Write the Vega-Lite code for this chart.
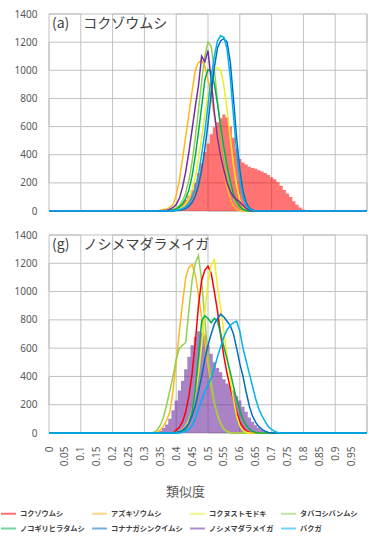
{
  "$schema": "https://vega.github.io/schema/vega-lite/v6.json",
  "background": "white",
  "padding": {"left": 0, "top": 9, "right": 0, "bottom": 0},
  "config": {
    "view": {"stroke": null},
    "font": "Noto Sans CJK JP",
    "axis": {"labelFont": "Noto Sans", "labelColor": "#595959", "grid": false, "domain": false, "ticks": false}
  },
  "spacing": 14,
  "datasets": {
    "gridlines": [
      {"g":"v","i":0,"x":0,"y":0},{"g":"v","i":1,"x":0,"y":1400},{"g":"v","i":2,"x":0.1,"y":1400},{"g":"v","i":3,"x":0.1,"y":0},
      {"g":"v","i":4,"x":0.2,"y":0},{"g":"v","i":5,"x":0.2,"y":1400},{"g":"v","i":6,"x":0.3,"y":1400},{"g":"v","i":7,"x":0.3,"y":0},
      {"g":"v","i":8,"x":0.4,"y":0},{"g":"v","i":9,"x":0.4,"y":1400},{"g":"v","i":10,"x":0.5,"y":1400},{"g":"v","i":11,"x":0.5,"y":0},
      {"g":"v","i":12,"x":0.6,"y":0},{"g":"v","i":13,"x":0.6,"y":1400},{"g":"v","i":14,"x":0.7,"y":1400},{"g":"v","i":15,"x":0.7,"y":0},
      {"g":"v","i":16,"x":0.8,"y":0},{"g":"v","i":17,"x":0.8,"y":1400},{"g":"v","i":18,"x":0.9,"y":1400},{"g":"v","i":19,"x":0.9,"y":0},
      {"g":"v","i":20,"x":1,"y":0},{"g":"v","i":21,"x":1,"y":1400},
      {"g":"h","i":0,"x":0,"y":0},{"g":"h","i":1,"x":1,"y":0},{"g":"h","i":2,"x":1,"y":200},{"g":"h","i":3,"x":0,"y":200},
      {"g":"h","i":4,"x":0,"y":400},{"g":"h","i":5,"x":1,"y":400},{"g":"h","i":6,"x":1,"y":600},{"g":"h","i":7,"x":0,"y":600},
      {"g":"h","i":8,"x":0,"y":800},{"g":"h","i":9,"x":1,"y":800},{"g":"h","i":10,"x":1,"y":1000},{"g":"h","i":11,"x":0,"y":1000},
      {"g":"h","i":12,"x":0,"y":1200},{"g":"h","i":13,"x":1,"y":1200},{"g":"h","i":14,"x":1,"y":1400},{"g":"h","i":15,"x":0,"y":1400}
    ],
    "aL": [
      {"s":"アズキゾウムシ","x":0,"y":0},{"s":"アズキゾウムシ","x":0.34,"y":0},{"s":"アズキゾウムシ","x":0.35,"y":5},{"s":"アズキゾウムシ","x":0.36,"y":10},{"s":"アズキゾウムシ","x":0.37,"y":15},{"s":"アズキゾウムシ","x":0.38,"y":25},{"s":"アズキゾウムシ","x":0.39,"y":45},{"s":"アズキゾウムシ","x":0.40,"y":110},{"s":"アズキゾウムシ","x":0.41,"y":220},{"s":"アズキゾウムシ","x":0.42,"y":370},{"s":"アズキゾウムシ","x":0.43,"y":530},{"s":"アズキゾウムシ","x":0.44,"y":690},{"s":"アズキゾウムシ","x":0.45,"y":850},{"s":"アズキゾウムシ","x":0.46,"y":1000},{"s":"アズキゾウムシ","x":0.47,"y":1055},{"s":"アズキゾウムシ","x":0.48,"y":1070},{"s":"アズキゾウムシ","x":0.49,"y":1030},{"s":"アズキゾウムシ","x":0.50,"y":930},{"s":"アズキゾウムシ","x":0.51,"y":810},{"s":"アズキゾウムシ","x":0.52,"y":680},{"s":"アズキゾウムシ","x":0.53,"y":540},{"s":"アズキゾウムシ","x":0.54,"y":410},{"s":"アズキゾウムシ","x":0.55,"y":290},{"s":"アズキゾウムシ","x":0.56,"y":170},{"s":"アズキゾウムシ","x":0.57,"y":85},{"s":"アズキゾウムシ","x":0.58,"y":35},{"s":"アズキゾウムシ","x":0.59,"y":12},{"s":"アズキゾウムシ","x":0.60,"y":3},{"s":"アズキゾウムシ","x":0.61,"y":0},{"s":"アズキゾウムシ","x":1,"y":0},
      {"s":"コクヌストモドキ","x":0,"y":0},{"s":"コクヌストモドキ","x":0.38,"y":0},{"s":"コクヌストモドキ","x":0.39,"y":4},{"s":"コクヌストモドキ","x":0.40,"y":8},{"s":"コクヌストモドキ","x":0.41,"y":15},{"s":"コクヌストモドキ","x":0.42,"y":28},{"s":"コクヌストモドキ","x":0.43,"y":50},{"s":"コクヌストモドキ","x":0.44,"y":90},{"s":"コクヌストモドキ","x":0.45,"y":150},{"s":"コクヌストモドキ","x":0.46,"y":240},{"s":"コクヌストモドキ","x":0.47,"y":370},{"s":"コクヌストモドキ","x":0.48,"y":520},{"s":"コクヌストモドキ","x":0.49,"y":680},{"s":"コクヌストモドキ","x":0.50,"y":830},{"s":"コクヌストモドキ","x":0.51,"y":940},{"s":"コクヌストモドキ","x":0.52,"y":1000},{"s":"コクヌストモドキ","x":0.53,"y":1020},{"s":"コクヌストモドキ","x":0.54,"y":1000},{"s":"コクヌストモドキ","x":0.55,"y":890},{"s":"コクヌストモドキ","x":0.56,"y":720},{"s":"コクヌストモドキ","x":0.57,"y":520},{"s":"コクヌストモドキ","x":0.58,"y":330},{"s":"コクヌストモドキ","x":0.59,"y":180},{"s":"コクヌストモドキ","x":0.60,"y":80},{"s":"コクヌストモドキ","x":0.61,"y":30},{"s":"コクヌストモドキ","x":0.62,"y":10},{"s":"コクヌストモドキ","x":0.63,"y":3},{"s":"コクヌストモドキ","x":0.64,"y":0},{"s":"コクヌストモドキ","x":1,"y":0},
      {"s":"タバコシバンムシ","x":0,"y":0},{"s":"タバコシバンムシ","x":0.36,"y":0},{"s":"タバコシバンムシ","x":0.37,"y":3},{"s":"タバコシバンムシ","x":0.38,"y":6},{"s":"タバコシバンムシ","x":0.39,"y":12},{"s":"タバコシバンムシ","x":0.40,"y":22},{"s":"タバコシバンムシ","x":0.41,"y":40},{"s":"タバコシバンムシ","x":0.42,"y":75},{"s":"タバコシバンムシ","x":0.43,"y":130},{"s":"タバコシバンムシ","x":0.44,"y":220},{"s":"タバコシバンムシ","x":0.45,"y":350},{"s":"タバコシバンムシ","x":0.46,"y":520},{"s":"タバコシバンムシ","x":0.47,"y":720},{"s":"タバコシバンムシ","x":0.48,"y":920},{"s":"タバコシバンムシ","x":0.49,"y":1100},{"s":"タバコシバンムシ","x":0.50,"y":1200},{"s":"タバコシバンムシ","x":0.51,"y":1170},{"s":"タバコシバンムシ","x":0.52,"y":1000},{"s":"タバコシバンムシ","x":0.53,"y":780},{"s":"タバコシバンムシ","x":0.54,"y":580},{"s":"タバコシバンムシ","x":0.55,"y":410},{"s":"タバコシバンムシ","x":0.56,"y":270},{"s":"タバコシバンムシ","x":0.57,"y":170},{"s":"タバコシバンムシ","x":0.58,"y":95},{"s":"タバコシバンムシ","x":0.59,"y":50},{"s":"タバコシバンムシ","x":0.60,"y":22},{"s":"タバコシバンムシ","x":0.61,"y":8},{"s":"タバコシバンムシ","x":0.62,"y":2},{"s":"タバコシバンムシ","x":0.63,"y":0},{"s":"タバコシバンムシ","x":1,"y":0},
      {"s":"ノコギリヒラタムシ","x":0,"y":0},{"s":"ノコギリヒラタムシ","x":0.37,"y":0},{"s":"ノコギリヒラタムシ","x":0.38,"y":4},{"s":"ノコギリヒラタムシ","x":0.39,"y":8},{"s":"ノコギリヒラタムシ","x":0.40,"y":15},{"s":"ノコギリヒラタムシ","x":0.41,"y":28},{"s":"ノコギリヒラタムシ","x":0.42,"y":50},{"s":"ノコギリヒラタムシ","x":0.43,"y":90},{"s":"ノコギリヒラタムシ","x":0.44,"y":150},{"s":"ノコギリヒラタムシ","x":0.45,"y":250},{"s":"ノコギリヒラタムシ","x":0.46,"y":390},{"s":"ノコギリヒラタムシ","x":0.47,"y":560},{"s":"ノコギリヒラタムシ","x":0.48,"y":740},{"s":"ノコギリヒラタムシ","x":0.49,"y":930},{"s":"ノコギリヒラタムシ","x":0.50,"y":1005},{"s":"ノコギリヒラタムシ","x":0.51,"y":990},{"s":"ノコギリヒラタムシ","x":0.52,"y":900},{"s":"ノコギリヒラタムシ","x":0.53,"y":760},{"s":"ノコギリヒラタムシ","x":0.54,"y":600},{"s":"ノコギリヒラタムシ","x":0.55,"y":450},{"s":"ノコギリヒラタムシ","x":0.56,"y":320},{"s":"ノコギリヒラタムシ","x":0.57,"y":210},{"s":"ノコギリヒラタムシ","x":0.58,"y":120},{"s":"ノコギリヒラタムシ","x":0.59,"y":65},{"s":"ノコギリヒラタムシ","x":0.60,"y":30},{"s":"ノコギリヒラタムシ","x":0.61,"y":12},{"s":"ノコギリヒラタムシ","x":0.62,"y":4},{"s":"ノコギリヒラタムシ","x":0.63,"y":0},{"s":"ノコギリヒラタムシ","x":1,"y":0},
      {"s":"コナナガシンクイムシ","x":0,"y":0},{"s":"コナナガシンクイムシ","x":0.39,"y":0},{"s":"コナナガシンクイムシ","x":0.40,"y":3},{"s":"コナナガシンクイムシ","x":0.41,"y":6},{"s":"コナナガシンクイムシ","x":0.42,"y":10},{"s":"コナナガシンクイムシ","x":0.43,"y":18},{"s":"コナナガシンクイムシ","x":0.44,"y":32},{"s":"コナナガシンクイムシ","x":0.45,"y":60},{"s":"コナナガシンクイムシ","x":0.46,"y":105},{"s":"コナナガシンクイムシ","x":0.47,"y":180},{"s":"コナナガシンクイムシ","x":0.48,"y":290},{"s":"コナナガシンクイムシ","x":0.49,"y":440},{"s":"コナナガシンクイムシ","x":0.50,"y":620},{"s":"コナナガシンクイムシ","x":0.51,"y":830},{"s":"コナナガシンクイムシ","x":0.52,"y":1020},{"s":"コナナガシンクイムシ","x":0.53,"y":1160},{"s":"コナナガシンクイムシ","x":0.54,"y":1210},{"s":"コナナガシンクイムシ","x":0.55,"y":1225},{"s":"コナナガシンクイムシ","x":0.56,"y":1200},{"s":"コナナガシンクイムシ","x":0.57,"y":1060},{"s":"コナナガシンクイムシ","x":0.58,"y":800},{"s":"コナナガシンクイムシ","x":0.59,"y":520},{"s":"コナナガシンクイムシ","x":0.60,"y":290},{"s":"コナナガシンクイムシ","x":0.61,"y":140},{"s":"コナナガシンクイムシ","x":0.62,"y":60},{"s":"コナナガシンクイムシ","x":0.63,"y":22},{"s":"コナナガシンクイムシ","x":0.64,"y":8},{"s":"コナナガシンクイムシ","x":0.65,"y":2},{"s":"コナナガシンクイムシ","x":0.66,"y":0},{"s":"コナナガシンクイムシ","x":1,"y":0},
      {"s":"ノシメマダラメイガ","x":0,"y":0},{"s":"ノシメマダラメイガ","x":0.35,"y":0},{"s":"ノシメマダラメイガ","x":0.36,"y":3},{"s":"ノシメマダラメイガ","x":0.37,"y":6},{"s":"ノシメマダラメイガ","x":0.38,"y":12},{"s":"ノシメマダラメイガ","x":0.39,"y":25},{"s":"ノシメマダラメイガ","x":0.40,"y":45},{"s":"ノシメマダラメイガ","x":0.41,"y":90},{"s":"ノシメマダラメイガ","x":0.42,"y":170},{"s":"ノシメマダラメイガ","x":0.43,"y":280},{"s":"ノシメマダラメイガ","x":0.44,"y":420},{"s":"ノシメマダラメイガ","x":0.45,"y":580},{"s":"ノシメマダラメイガ","x":0.46,"y":740},{"s":"ノシメマダラメイガ","x":0.47,"y":890},{"s":"ノシメマダラメイガ","x":0.48,"y":1100},{"s":"ノシメマダラメイガ","x":0.49,"y":1060},{"s":"ノシメマダラメイガ","x":0.50,"y":1140},{"s":"ノシメマダラメイガ","x":0.51,"y":930},{"s":"ノシメマダラメイガ","x":0.52,"y":700},{"s":"ノシメマダラメイガ","x":0.53,"y":520},{"s":"ノシメマダラメイガ","x":0.54,"y":390},{"s":"ノシメマダラメイガ","x":0.55,"y":290},{"s":"ノシメマダラメイガ","x":0.56,"y":200},{"s":"ノシメマダラメイガ","x":0.57,"y":140},{"s":"ノシメマダラメイガ","x":0.58,"y":100},{"s":"ノシメマダラメイガ","x":0.59,"y":80},{"s":"ノシメマダラメイガ","x":0.60,"y":65},{"s":"ノシメマダラメイガ","x":0.61,"y":40},{"s":"ノシメマダラメイガ","x":0.62,"y":18},{"s":"ノシメマダラメイガ","x":0.63,"y":6},{"s":"ノシメマダラメイガ","x":0.64,"y":0},{"s":"ノシメマダラメイガ","x":1,"y":0},
      {"s":"バクガ","x":0,"y":0},{"s":"バクガ","x":0.38,"y":0},{"s":"バクガ","x":0.39,"y":3},{"s":"バクガ","x":0.40,"y":6},{"s":"バクガ","x":0.41,"y":10},{"s":"バクガ","x":0.42,"y":18},{"s":"バクガ","x":0.43,"y":30},{"s":"バクガ","x":0.44,"y":55},{"s":"バクガ","x":0.45,"y":95},{"s":"バクガ","x":0.46,"y":160},{"s":"バクガ","x":0.47,"y":260},{"s":"バクガ","x":0.48,"y":400},{"s":"バクガ","x":0.49,"y":560},{"s":"バクガ","x":0.50,"y":750},{"s":"バクガ","x":0.51,"y":950},{"s":"バクガ","x":0.52,"y":1100},{"s":"バクガ","x":0.53,"y":1210},{"s":"バクガ","x":0.54,"y":1245},{"s":"バクガ","x":0.55,"y":1235},{"s":"バクガ","x":0.56,"y":1150},{"s":"バクガ","x":0.57,"y":950},{"s":"バクガ","x":0.58,"y":680},{"s":"バクガ","x":0.59,"y":420},{"s":"バクガ","x":0.60,"y":220},{"s":"バクガ","x":0.61,"y":100},{"s":"バクガ","x":0.62,"y":40},{"s":"バクガ","x":0.63,"y":15},{"s":"バクガ","x":0.64,"y":5},{"s":"バクガ","x":0.65,"y":0},{"s":"バクガ","x":1,"y":0}
    ],
    "aH": [
      {"s":"コクゾウムシ","x":0.37,"y":0},{"s":"コクゾウムシ","x":0.38,"y":5},{"s":"コクゾウムシ","x":0.39,"y":10},{"s":"コクゾウムシ","x":0.40,"y":20},{"s":"コクゾウムシ","x":0.41,"y":35},{"s":"コクゾウムシ","x":0.42,"y":55},{"s":"コクゾウムシ","x":0.43,"y":80},{"s":"コクゾウムシ","x":0.44,"y":110},{"s":"コクゾウムシ","x":0.45,"y":150},{"s":"コクゾウムシ","x":0.46,"y":200},{"s":"コクゾウムシ","x":0.47,"y":270},{"s":"コクゾウムシ","x":0.48,"y":340},{"s":"コクゾウムシ","x":0.49,"y":420},{"s":"コクゾウムシ","x":0.50,"y":480},{"s":"コクゾウムシ","x":0.51,"y":545},{"s":"コクゾウムシ","x":0.52,"y":595},{"s":"コクゾウムシ","x":0.53,"y":630},{"s":"コクゾウムシ","x":0.54,"y":660},{"s":"コクゾウムシ","x":0.55,"y":685},{"s":"コクゾウムシ","x":0.56,"y":665},{"s":"コクゾウムシ","x":0.57,"y":600},{"s":"コクゾウムシ","x":0.58,"y":520},{"s":"コクゾウムシ","x":0.59,"y":440},{"s":"コクゾウムシ","x":0.60,"y":370},{"s":"コクゾウムシ","x":0.61,"y":345},{"s":"コクゾウムシ","x":0.62,"y":330},{"s":"コクゾウムシ","x":0.63,"y":315},{"s":"コクゾウムシ","x":0.64,"y":305},{"s":"コクゾウムシ","x":0.65,"y":300},{"s":"コクゾウムシ","x":0.66,"y":290},{"s":"コクゾウムシ","x":0.67,"y":280},{"s":"コクゾウムシ","x":0.68,"y":270},{"s":"コクゾウムシ","x":0.69,"y":255},{"s":"コクゾウムシ","x":0.70,"y":240},{"s":"コクゾウムシ","x":0.71,"y":225},{"s":"コクゾウムシ","x":0.72,"y":205},{"s":"コクゾウムシ","x":0.73,"y":180},{"s":"コクゾウムシ","x":0.74,"y":150},{"s":"コクゾウムシ","x":0.75,"y":125},{"s":"コクゾウムシ","x":0.76,"y":100},{"s":"コクゾウムシ","x":0.77,"y":70},{"s":"コクゾウムシ","x":0.78,"y":45},{"s":"コクゾウムシ","x":0.79,"y":25},{"s":"コクゾウムシ","x":0.80,"y":10},{"s":"コクゾウムシ","x":0.81,"y":3},{"s":"コクゾウムシ","x":0.82,"y":0}
    ],
    "gL": [
      {"s":"アズキゾウムシ","x":0,"y":0},{"s":"アズキゾウムシ","x":0.33,"y":0},{"s":"アズキゾウムシ","x":0.34,"y":5},{"s":"アズキゾウムシ","x":0.35,"y":20},{"s":"アズキゾウムシ","x":0.36,"y":50},{"s":"アズキゾウムシ","x":0.37,"y":90},{"s":"アズキゾウムシ","x":0.38,"y":150},{"s":"アズキゾウムシ","x":0.39,"y":300},{"s":"アズキゾウムシ","x":0.40,"y":500},{"s":"アズキゾウムシ","x":0.41,"y":720},{"s":"アズキゾウムシ","x":0.42,"y":920},{"s":"アズキゾウムシ","x":0.43,"y":1100},{"s":"アズキゾウムシ","x":0.44,"y":1170},{"s":"アズキゾウムシ","x":0.45,"y":1190},{"s":"アズキゾウムシ","x":0.46,"y":1120},{"s":"アズキゾウムシ","x":0.47,"y":980},{"s":"アズキゾウムシ","x":0.48,"y":820},{"s":"アズキゾウムシ","x":0.49,"y":650},{"s":"アズキゾウムシ","x":0.50,"y":480},{"s":"アズキゾウムシ","x":0.51,"y":330},{"s":"アズキゾウムシ","x":0.52,"y":210},{"s":"アズキゾウムシ","x":0.53,"y":130},{"s":"アズキゾウムシ","x":0.54,"y":70},{"s":"アズキゾウムシ","x":0.55,"y":30},{"s":"アズキゾウムシ","x":0.56,"y":10},{"s":"アズキゾウムシ","x":0.57,"y":3},{"s":"アズキゾウムシ","x":0.58,"y":0},{"s":"アズキゾウムシ","x":1,"y":0},
      {"s":"タバコシバンムシ","x":0,"y":0},{"s":"タバコシバンムシ","x":0.32,"y":0},{"s":"タバコシバンムシ","x":0.33,"y":5},{"s":"タバコシバンムシ","x":0.34,"y":20},{"s":"タバコシバンムシ","x":0.35,"y":55},{"s":"タバコシバンムシ","x":0.36,"y":110},{"s":"タバコシバンムシ","x":0.37,"y":200},{"s":"タバコシバンムシ","x":0.38,"y":300},{"s":"タバコシバンムシ","x":0.39,"y":400},{"s":"タバコシバンムシ","x":0.40,"y":520},{"s":"タバコシバンムシ","x":0.41,"y":600},{"s":"タバコシバンムシ","x":0.42,"y":620},{"s":"タバコシバンムシ","x":0.43,"y":640},{"s":"タバコシバンムシ","x":0.44,"y":870},{"s":"タバコシバンムシ","x":0.45,"y":1080},{"s":"タバコシバンムシ","x":0.46,"y":1200},{"s":"タバコシバンムシ","x":0.47,"y":1255},{"s":"タバコシバンムシ","x":0.48,"y":1080},{"s":"タバコシバンムシ","x":0.49,"y":800},{"s":"タバコシバンムシ","x":0.50,"y":560},{"s":"タバコシバンムシ","x":0.51,"y":360},{"s":"タバコシバンムシ","x":0.52,"y":220},{"s":"タバコシバンムシ","x":0.53,"y":120},{"s":"タバコシバンムシ","x":0.54,"y":60},{"s":"タバコシバンムシ","x":0.55,"y":25},{"s":"タバコシバンムシ","x":0.56,"y":8},{"s":"タバコシバンムシ","x":0.57,"y":2},{"s":"タバコシバンムシ","x":0.58,"y":0},{"s":"タバコシバンムシ","x":1,"y":0},
      {"s":"コクゾウムシ","x":0,"y":0},{"s":"コクゾウムシ","x":0.39,"y":0},{"s":"コクゾウムシ","x":0.40,"y":20},{"s":"コクゾウムシ","x":0.41,"y":40},{"s":"コクゾウムシ","x":0.42,"y":80},{"s":"コクゾウムシ","x":0.43,"y":150},{"s":"コクゾウムシ","x":0.44,"y":260},{"s":"コクゾウムシ","x":0.45,"y":420},{"s":"コクゾウムシ","x":0.46,"y":640},{"s":"コクゾウムシ","x":0.47,"y":900},{"s":"コクゾウムシ","x":0.48,"y":1080},{"s":"コクゾウムシ","x":0.49,"y":1150},{"s":"コクゾウムシ","x":0.50,"y":1180},{"s":"コクゾウムシ","x":0.51,"y":1130},{"s":"コクゾウムシ","x":0.52,"y":1000},{"s":"コクゾウムシ","x":0.53,"y":860},{"s":"コクゾウムシ","x":0.54,"y":690},{"s":"コクゾウムシ","x":0.55,"y":540},{"s":"コクゾウムシ","x":0.56,"y":420},{"s":"コクゾウムシ","x":0.57,"y":320},{"s":"コクゾウムシ","x":0.58,"y":240},{"s":"コクゾウムシ","x":0.59,"y":150},{"s":"コクゾウムシ","x":0.60,"y":80},{"s":"コクゾウムシ","x":0.61,"y":40},{"s":"コクゾウムシ","x":0.62,"y":15},{"s":"コクゾウムシ","x":0.63,"y":5},{"s":"コクゾウムシ","x":0.64,"y":0},{"s":"コクゾウムシ","x":1,"y":0},
      {"s":"コクヌストモドキ","x":0,"y":0},{"s":"コクヌストモドキ","x":0.39,"y":0},{"s":"コクヌストモドキ","x":0.40,"y":5},{"s":"コクヌストモドキ","x":0.41,"y":12},{"s":"コクヌストモドキ","x":0.42,"y":25},{"s":"コクヌストモドキ","x":0.43,"y":50},{"s":"コクヌストモドキ","x":0.44,"y":90},{"s":"コクヌストモドキ","x":0.45,"y":160},{"s":"コクヌストモドキ","x":0.46,"y":270},{"s":"コクヌストモドキ","x":0.47,"y":420},{"s":"コクヌストモドキ","x":0.48,"y":620},{"s":"コクヌストモドキ","x":0.49,"y":860},{"s":"コクヌストモドキ","x":0.50,"y":1060},{"s":"コクヌストモドキ","x":0.51,"y":1190},{"s":"コクヌストモドキ","x":0.52,"y":1225},{"s":"コクヌストモドキ","x":0.53,"y":1030},{"s":"コクヌストモドキ","x":0.54,"y":880},{"s":"コクヌストモドキ","x":0.55,"y":720},{"s":"コクヌストモドキ","x":0.56,"y":550},{"s":"コクヌストモドキ","x":0.57,"y":380},{"s":"コクヌストモドキ","x":0.58,"y":240},{"s":"コクヌストモドキ","x":0.59,"y":120},{"s":"コクヌストモドキ","x":0.60,"y":50},{"s":"コクヌストモドキ","x":0.61,"y":18},{"s":"コクヌストモドキ","x":0.62,"y":5},{"s":"コクヌストモドキ","x":0.63,"y":0},{"s":"コクヌストモドキ","x":1,"y":0},
      {"s":"ノコギリヒラタムシ","x":0,"y":0},{"s":"ノコギリヒラタムシ","x":0.40,"y":0},{"s":"ノコギリヒラタムシ","x":0.41,"y":5},{"s":"ノコギリヒラタムシ","x":0.42,"y":12},{"s":"ノコギリヒラタムシ","x":0.43,"y":30},{"s":"ノコギリヒラタムシ","x":0.44,"y":70},{"s":"ノコギリヒラタムシ","x":0.45,"y":150},{"s":"ノコギリヒラタムシ","x":0.46,"y":300},{"s":"ノコギリヒラタムシ","x":0.47,"y":540},{"s":"ノコギリヒラタムシ","x":0.48,"y":790},{"s":"ノコギリヒラタムシ","x":0.49,"y":830},{"s":"ノコギリヒラタムシ","x":0.50,"y":810},{"s":"ノコギリヒラタムシ","x":0.51,"y":780},{"s":"ノコギリヒラタムシ","x":0.52,"y":810},{"s":"ノコギリヒラタムシ","x":0.53,"y":790},{"s":"ノコギリヒラタムシ","x":0.54,"y":700},{"s":"ノコギリヒラタムシ","x":0.55,"y":610},{"s":"ノコギリヒラタムシ","x":0.56,"y":520},{"s":"ノコギリヒラタムシ","x":0.57,"y":430},{"s":"ノコギリヒラタムシ","x":0.58,"y":330},{"s":"ノコギリヒラタムシ","x":0.59,"y":240},{"s":"ノコギリヒラタムシ","x":0.60,"y":160},{"s":"ノコギリヒラタムシ","x":0.61,"y":100},{"s":"ノコギリヒラタムシ","x":0.62,"y":55},{"s":"ノコギリヒラタムシ","x":0.63,"y":28},{"s":"ノコギリヒラタムシ","x":0.64,"y":12},{"s":"ノコギリヒラタムシ","x":0.65,"y":4},{"s":"ノコギリヒラタムシ","x":0.66,"y":0},{"s":"ノコギリヒラタムシ","x":1,"y":0},
      {"s":"コナナガシンクイムシ","x":0,"y":0},{"s":"コナナガシンクイムシ","x":0.39,"y":0},{"s":"コナナガシンクイムシ","x":0.40,"y":5},{"s":"コナナガシンクイムシ","x":0.41,"y":10},{"s":"コナナガシンクイムシ","x":0.42,"y":20},{"s":"コナナガシンクイムシ","x":0.43,"y":40},{"s":"コナナガシンクイムシ","x":0.44,"y":70},{"s":"コナナガシンクイムシ","x":0.45,"y":120},{"s":"コナナガシンクイムシ","x":0.46,"y":190},{"s":"コナナガシンクイムシ","x":0.47,"y":290},{"s":"コナナガシンクイムシ","x":0.48,"y":400},{"s":"コナナガシンクイムシ","x":0.49,"y":520},{"s":"コナナガシンクイムシ","x":0.50,"y":620},{"s":"コナナガシンクイムシ","x":0.51,"y":700},{"s":"コナナガシンクイムシ","x":0.52,"y":770},{"s":"コナナガシンクイムシ","x":0.53,"y":810},{"s":"コナナガシンクイムシ","x":0.54,"y":840},{"s":"コナナガシンクイムシ","x":0.55,"y":820},{"s":"コナナガシンクイムシ","x":0.56,"y":790},{"s":"コナナガシンクイムシ","x":0.57,"y":760},{"s":"コナナガシンクイムシ","x":0.58,"y":700},{"s":"コナナガシンクイムシ","x":0.59,"y":600},{"s":"コナナガシンクイムシ","x":0.60,"y":490},{"s":"コナナガシンクイムシ","x":0.61,"y":400},{"s":"コナナガシンクイムシ","x":0.62,"y":290},{"s":"コナナガシンクイムシ","x":0.63,"y":190},{"s":"コナナガシンクイムシ","x":0.64,"y":120},{"s":"コナナガシンクイムシ","x":0.65,"y":75},{"s":"コナナガシンクイムシ","x":0.66,"y":45},{"s":"コナナガシンクイムシ","x":0.67,"y":25},{"s":"コナナガシンクイムシ","x":0.68,"y":12},{"s":"コナナガシンクイムシ","x":0.69,"y":4},{"s":"コナナガシンクイムシ","x":0.70,"y":0},{"s":"コナナガシンクイムシ","x":1,"y":0},
      {"s":"バクガ","x":0,"y":0},{"s":"バクガ","x":0.41,"y":0},{"s":"バクガ","x":0.42,"y":5},{"s":"バクガ","x":0.43,"y":12},{"s":"バクガ","x":0.44,"y":25},{"s":"バクガ","x":0.45,"y":50},{"s":"バクガ","x":0.46,"y":100},{"s":"バクガ","x":0.47,"y":170},{"s":"バクガ","x":0.48,"y":230},{"s":"バクガ","x":0.49,"y":290},{"s":"バクガ","x":0.50,"y":340},{"s":"バクガ","x":0.51,"y":390},{"s":"バクガ","x":0.52,"y":460},{"s":"バクガ","x":0.53,"y":540},{"s":"バクガ","x":0.54,"y":610},{"s":"バクガ","x":0.55,"y":680},{"s":"バクガ","x":0.56,"y":730},{"s":"バクガ","x":0.57,"y":760},{"s":"バクガ","x":0.58,"y":780},{"s":"バクガ","x":0.59,"y":790},{"s":"バクガ","x":0.60,"y":720},{"s":"バクガ","x":0.61,"y":600},{"s":"バクガ","x":0.62,"y":510},{"s":"バクガ","x":0.63,"y":420},{"s":"バクガ","x":0.64,"y":330},{"s":"バクガ","x":0.65,"y":240},{"s":"バクガ","x":0.66,"y":170},{"s":"バクガ","x":0.67,"y":120},{"s":"バクガ","x":0.68,"y":80},{"s":"バクガ","x":0.69,"y":45},{"s":"バクガ","x":0.70,"y":25},{"s":"バクガ","x":0.71,"y":10},{"s":"バクガ","x":0.72,"y":3},{"s":"バクガ","x":0.73,"y":0},{"s":"バクガ","x":1,"y":0}
    ],
    "gH": [
      {"s":"ノシメマダラメイガ","x":0.33,"y":0},{"s":"ノシメマダラメイガ","x":0.34,"y":5},{"s":"ノシメマダラメイガ","x":0.35,"y":15},{"s":"ノシメマダラメイガ","x":0.36,"y":35},{"s":"ノシメマダラメイガ","x":0.37,"y":60},{"s":"ノシメマダラメイガ","x":0.38,"y":100},{"s":"ノシメマダラメイガ","x":0.39,"y":160},{"s":"ノシメマダラメイガ","x":0.40,"y":230},{"s":"ノシメマダラメイガ","x":0.41,"y":300},{"s":"ノシメマダラメイガ","x":0.42,"y":370},{"s":"ノシメマダラメイガ","x":0.43,"y":450},{"s":"ノシメマダラメイガ","x":0.44,"y":540},{"s":"ノシメマダラメイガ","x":0.45,"y":620},{"s":"ノシメマダラメイガ","x":0.46,"y":680},{"s":"ノシメマダラメイガ","x":0.47,"y":720},{"s":"ノシメマダラメイガ","x":0.48,"y":710},{"s":"ノシメマダラメイガ","x":0.49,"y":690},{"s":"ノシメマダラメイガ","x":0.50,"y":620},{"s":"ノシメマダラメイガ","x":0.51,"y":560},{"s":"ノシメマダラメイガ","x":0.52,"y":500},{"s":"ノシメマダラメイガ","x":0.53,"y":460},{"s":"ノシメマダラメイガ","x":0.54,"y":430},{"s":"ノシメマダラメイガ","x":0.55,"y":380},{"s":"ノシメマダラメイガ","x":0.56,"y":350},{"s":"ノシメマダラメイガ","x":0.57,"y":330},{"s":"ノシメマダラメイガ","x":0.58,"y":300},{"s":"ノシメマダラメイガ","x":0.59,"y":260},{"s":"ノシメマダラメイガ","x":0.60,"y":230},{"s":"ノシメマダラメイガ","x":0.61,"y":185},{"s":"ノシメマダラメイガ","x":0.62,"y":150},{"s":"ノシメマダラメイガ","x":0.63,"y":110},{"s":"ノシメマダラメイガ","x":0.64,"y":80},{"s":"ノシメマダラメイガ","x":0.65,"y":55},{"s":"ノシメマダラメイガ","x":0.66,"y":35},{"s":"ノシメマダラメイガ","x":0.67,"y":22},{"s":"ノシメマダラメイガ","x":0.68,"y":12},{"s":"ノシメマダラメイガ","x":0.69,"y":6},{"s":"ノシメマダラメイガ","x":0.70,"y":2},{"s":"ノシメマダラメイガ","x":0.71,"y":0}
    ]
  },
  "vconcat": [
    {
      "width": 318,
      "height": 197,
      "title": {"text": "(a)　コクゾウムシ", "anchor": "start", "frame": "group", "orient": "top", "offset": -22, "dx": 3, "fontSize": 14, "fontWeight": "normal", "color": "#404040", "font": "Noto Sans CJK JP"},
      "encoding": {
        "x": {"field": "x", "type": "quantitative", "scale": {"domain": [0, 1], "nice": false},
          "axis": {"values": [0,0.1,0.2,0.3,0.4,0.5,0.6,0.7,0.8,0.9,1], "labels": false, "title": null}},
        "y": {"field": "y", "type": "quantitative", "scale": {"domain": [0, 1400], "nice": false},
          "axis": {"values": [0,200,400,600,800,1000,1200,1400], "format": "d", "title": null, "labelPadding": 12, "labelFontSize": 10}}
      },
      "layer": [
        {"data": {"name": "gridlines"}, "mark": {"type": "line", "stroke": "#c0c0c0", "strokeWidth": 1},
          "encoding": {"detail": {"field": "g", "type": "nominal"}, "order": {"field": "i", "type": "quantitative"}}},
        {"data": {"name": "aH"}, "mark": {"type": "area", "interpolate": "step", "opacity": 0.55},
          "encoding": {"color": {"field": "s", "type": "nominal",
            "scale": {"domain": ["コクゾウムシ","アズキゾウムシ","コクヌストモドキ","タバコシバンムシ","ノコギリヒラタムシ","コナナガシンクイムシ","ノシメマダラメイガ","バクガ"],
                      "range": ["#ff0000","#ffb81c","#f0ee1e","#92d050","#00b050","#0070c0","#7030a0","#00b0f0"]},
            "legend": {"title": null, "orient": "none", "legendX": -49, "legendY": 491, "direction": "horizontal", "columns": 4,
              "columnPadding": 3, "rowPadding": 2, "padding": 0, "symbolType": "stroke", "symbolSize": 225, "symbolStrokeWidth": 2,
              "labelFont": "Noto Sans CJK JP", "labelFontSize": 7.2, "labelFontWeight": "bold", "labelColor": "#404040", "labelOffset": 3}}}},
        {"data": {"name": "aL"}, "mark": {"type": "line", "strokeWidth": 1.5},
          "encoding": {"color": {"field": "s", "type": "nominal"}}}
      ]
    },
    {
      "width": 318,
      "height": 198,
      "title": {"text": "(g)　ノシメマダラメイガ", "anchor": "start", "frame": "group", "orient": "top", "offset": -22, "dx": 3, "fontSize": 14, "fontWeight": "normal", "color": "#404040", "font": "Noto Sans CJK JP"},
      "encoding": {
        "x": {"field": "x", "type": "quantitative", "scale": {"domain": [0, 1], "nice": false},
          "axis": {"values": [0,0.05,0.1,0.15,0.2,0.25,0.3,0.35,0.4,0.45,0.5,0.55,0.6,0.65,0.7,0.75,0.8,0.85,0.9,0.95,1],
            "labelExpr": "datum.value > 0.99 ? '' : format(datum.value, '~g')",
            "labelAngle": -90, "labelFontSize": 10, "labelPadding": 13,
            "title": "類似度", "titleFont": "Noto Sans CJK JP", "titleFontSize": 13, "titleFontWeight": "normal", "titleColor": "#595959",
            "titleX": 136, "titleY": 58, "titleBaseline": "middle", "titleAnchor": "middle", "titleAlign": "center"}},
        "y": {"field": "y", "type": "quantitative", "scale": {"domain": [0, 1400], "nice": false},
          "axis": {"values": [0,200,400,600,800,1000,1200,1400], "format": "d", "title": null, "labelPadding": 12, "labelFontSize": 10}}
      },
      "layer": [
        {"data": {"name": "gridlines"}, "mark": {"type": "line", "stroke": "#c0c0c0", "strokeWidth": 1},
          "encoding": {"detail": {"field": "g", "type": "nominal"}, "order": {"field": "i", "type": "quantitative"}}},
        {"data": {"name": "gH"}, "mark": {"type": "area", "interpolate": "step", "opacity": 0.6},
          "encoding": {"color": {"field": "s", "type": "nominal"}}},
        {"data": {"name": "gL"}, "mark": {"type": "line", "strokeWidth": 1.5},
          "encoding": {"color": {"field": "s", "type": "nominal"}}}
      ]
    }
  ],
  "resolve": {"scale": {"color": "shared"}}
}
